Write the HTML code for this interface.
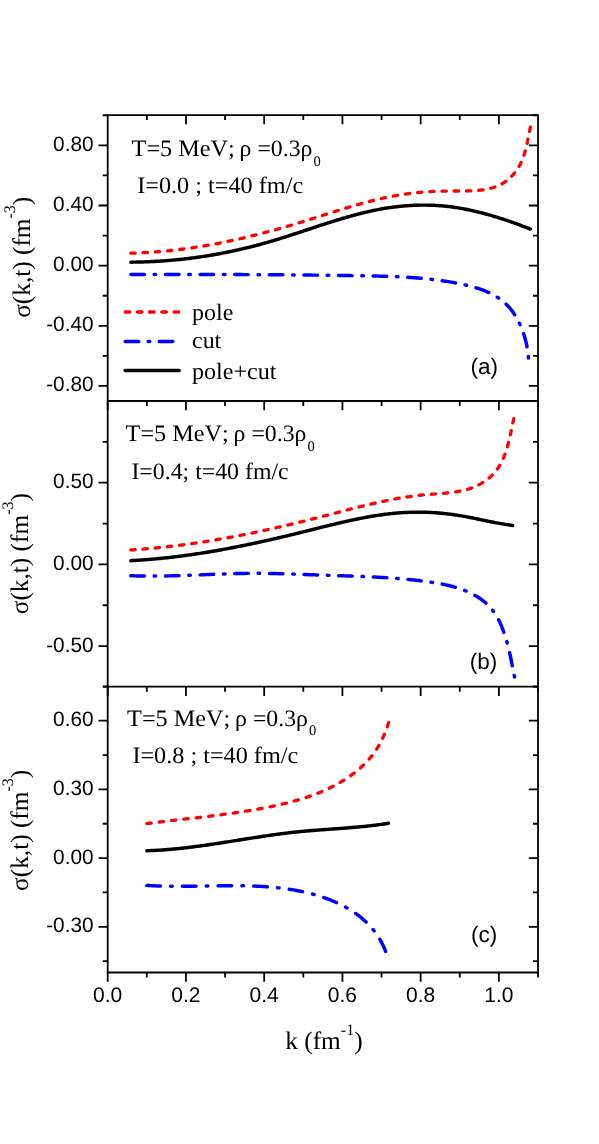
<!DOCTYPE html>
<html><head><meta charset="utf-8"><title>chart</title>
<style>html,body{margin:0;padding:0;background:#fff}body{width:599px;height:1144px;position:relative;overflow:hidden;font-family:"Liberation Sans",sans-serif}</style></head>
<body>
<svg width="599" height="1144" viewBox="0 0 599 1144" style="position:absolute;left:0;top:0;font-kerning:none;text-rendering:geometricPrecision;will-change:transform;opacity:0.9999">
<rect width="599" height="1144" fill="#fff"/>
<g stroke="#000" stroke-width="1.80" fill="none" stroke-linecap="butt">
<path d="M107.70 114.20 V973.40 M538.02 114.20 V973.40"/>
<path d="M107.70 115.10 H538.02"/>
<path d="M107.70 401.00 H538.02"/>
<path d="M107.70 686.70 H538.02"/>
<path d="M107.70 972.50 H538.02"/>
<path d="M146.82 115.10 v5.00 M185.94 115.10 v9.20 M225.06 115.10 v5.00 M264.18 115.10 v9.20 M303.30 115.10 v5.00 M342.42 115.10 v9.20 M381.54 115.10 v5.00 M420.66 115.10 v9.20 M459.78 115.10 v5.00 M498.90 115.10 v9.20 M107.70 401.00 v9.20 M146.82 401.00 v5.00 M185.94 401.00 v9.20 M225.06 401.00 v5.00 M264.18 401.00 v9.20 M303.30 401.00 v5.00 M342.42 401.00 v9.20 M381.54 401.00 v5.00 M420.66 401.00 v9.20 M459.78 401.00 v5.00 M498.90 401.00 v9.20 M538.02 401.00 v5.00 M107.70 686.70 v9.20 M146.82 686.70 v5.00 M185.94 686.70 v9.20 M225.06 686.70 v5.00 M264.18 686.70 v9.20 M303.30 686.70 v5.00 M342.42 686.70 v9.20 M381.54 686.70 v5.00 M420.66 686.70 v9.20 M459.78 686.70 v5.00 M498.90 686.70 v9.20 M538.02 686.70 v5.00 M107.70 972.50 v9.20 M146.82 972.50 v5.00 M185.94 972.50 v9.20 M225.06 972.50 v5.00 M264.18 972.50 v9.20 M303.30 972.50 v5.00 M342.42 972.50 v9.20 M381.54 972.50 v5.00 M420.66 972.50 v9.20 M459.78 972.50 v5.00 M498.90 972.50 v9.20 M538.02 972.50 v5.00 M107.70 145.33 h-9.20 M538.02 145.33 h-9.20 M107.70 205.49 h-9.20 M538.02 205.49 h-9.20 M107.70 265.65 h-9.20 M538.02 265.65 h-9.20 M107.70 325.81 h-9.20 M538.02 325.81 h-9.20 M107.70 385.97 h-9.20 M538.02 385.97 h-9.20 M107.70 115.25 h-5.00 M538.02 115.25 h-5.00 M107.70 175.41 h-5.00 M538.02 175.41 h-5.00 M107.70 235.57 h-5.00 M538.02 235.57 h-5.00 M107.70 295.73 h-5.00 M538.02 295.73 h-5.00 M107.70 355.89 h-5.00 M538.02 355.89 h-5.00 M107.70 482.70 h-9.20 M538.02 482.70 h-9.20 M107.70 564.40 h-9.20 M538.02 564.40 h-9.20 M107.70 646.10 h-9.20 M538.02 646.10 h-9.20 M107.70 441.85 h-5.00 M538.02 441.85 h-5.00 M107.70 523.55 h-5.00 M538.02 523.55 h-5.00 M107.70 605.25 h-5.00 M538.02 605.25 h-5.00 M107.70 686.95 h-5.00 M538.02 686.95 h-5.00 M107.70 720.70 h-9.20 M538.02 720.70 h-9.20 M107.70 789.40 h-9.20 M538.02 789.40 h-9.20 M107.70 858.10 h-9.20 M538.02 858.10 h-9.20 M107.70 926.80 h-9.20 M538.02 926.80 h-9.20 M107.70 686.35 h-5.00 M538.02 686.35 h-5.00 M107.70 755.05 h-5.00 M538.02 755.05 h-5.00 M107.70 823.75 h-5.00 M538.02 823.75 h-5.00 M107.70 892.45 h-5.00 M538.02 892.45 h-5.00 M107.70 961.15 h-5.00 M538.02 961.15 h-5.00"/>
</g>
<path d="M130.80 253.17 L132.31 253.13 L133.83 253.09 L135.34 253.04 L136.85 252.99 L138.36 252.93 L139.86 252.86 L141.37 252.80 L142.88 252.72 L144.38 252.65 L145.89 252.57 L147.39 252.48 L148.89 252.39 L150.39 252.29 L151.89 252.19 L153.39 252.09 L154.88 251.98 L156.38 251.86 L157.88 251.75 L159.37 251.62 L160.86 251.49 L162.35 251.36 L163.85 251.23 L165.34 251.09 L166.82 250.94 L168.31 250.79 L169.80 250.64 L171.29 250.48 L172.77 250.32 L174.26 250.15 L175.74 249.98 L177.22 249.81 L178.70 249.63 L180.18 249.45 L181.66 249.26 L183.14 249.07 L184.62 248.87 L186.10 248.67 L187.57 248.47 L189.05 248.26 L190.52 248.05 L192.00 247.84 L193.47 247.62 L194.94 247.40 L196.41 247.17 L197.88 246.94 L199.35 246.70 L200.82 246.47 L202.29 246.22 L203.76 245.98 L205.23 245.73 L206.69 245.48 L208.16 245.22 L209.62 244.96 L211.09 244.70 L212.55 244.43 L214.01 244.16 L215.47 243.88 L216.93 243.60 L218.39 243.32 L219.85 243.04 L221.31 242.75 L222.77 242.46 L224.23 242.16 L225.69 241.86 L227.14 241.56 L228.60 241.25 L230.06 240.94 L231.51 240.63 L232.97 240.32 L234.42 240.00 L235.87 239.68 L237.33 239.35 L238.78 239.02 L240.23 238.69 L241.68 238.36 L243.13 238.02 L244.58 237.68 L246.03 237.33 L247.48 236.99 L248.93 236.64 L250.38 236.29 L251.83 235.93 L253.27 235.57 L254.72 235.21 L256.17 234.84 L257.61 234.48 L259.06 234.11 L260.51 233.73 L261.95 233.36 L263.40 232.98 L264.84 232.60 L266.28 232.22 L267.73 231.83 L269.17 231.44 L270.62 231.05 L272.06 230.65 L273.50 230.26 L274.94 229.86 L276.38 229.45 L277.83 229.05 L279.27 228.64 L280.71 228.23 L282.15 227.82 L283.59 227.41 L285.03 226.99 L286.47 226.57 L287.91 226.15 L289.35 225.72 L290.79 225.30 L292.23 224.87 L293.67 224.44 L295.11 224.00 L296.55 223.57 L297.99 223.13 L299.42 222.69 L300.86 222.25 L302.30 221.81 L303.74 221.36 L305.18 220.91 L306.62 220.46 L308.05 220.01 L309.49 219.56 L310.93 219.11 L312.37 218.66 L313.81 218.20 L315.24 217.75 L316.68 217.29 L318.12 216.83 L319.56 216.38 L320.99 215.92 L322.43 215.46 L323.87 215.01 L325.31 214.55 L326.75 214.09 L328.18 213.64 L329.62 213.18 L331.06 212.73 L332.50 212.28 L333.94 211.82 L335.37 211.37 L336.81 210.93 L338.25 210.48 L339.69 210.03 L341.13 209.59 L342.57 209.15 L344.01 208.71 L345.45 208.27 L346.89 207.84 L348.33 207.41 L349.77 206.98 L351.21 206.55 L352.65 206.13 L354.09 205.71 L355.53 205.29 L356.97 204.88 L358.41 204.47 L359.85 204.06 L361.29 203.66 L362.73 203.26 L364.18 202.87 L365.62 202.48 L367.06 202.10 L368.51 201.72 L369.95 201.34 L371.39 200.97 L372.84 200.61 L374.28 200.25 L375.73 199.90 L377.17 199.55 L378.62 199.20 L380.06 198.87 L381.51 198.54 L382.96 198.21 L384.40 197.89 L385.85 197.58 L387.30 197.27 L388.75 196.98 L390.20 196.68 L391.65 196.40 L393.10 196.12 L394.55 195.85 L396.00 195.59 L397.45 195.33 L398.90 195.08 L400.35 194.84 L401.81 194.61 L403.26 194.39 L404.71 194.17 L406.17 193.96 L407.63 193.76 L409.08 193.57 L410.54 193.38 L412.00 193.21 L413.47 193.04 L414.93 192.87 L416.40 192.72 L417.86 192.57 L419.33 192.43 L420.81 192.29 L422.28 192.17 L423.76 192.05 L425.24 191.93 L426.72 191.83 L428.20 191.73 L429.69 191.63 L431.18 191.55 L432.68 191.47 L434.18 191.40 L435.68 191.33 L437.19 191.27 L438.70 191.21 L440.21 191.17 L441.73 191.13 L443.25 191.09 L444.78 191.06 L446.31 191.04 L447.84 191.02 L449.38 191.01 L450.93 191.01 L452.48 191.01 L454.03 191.01 L455.58 191.01 L457.14 191.02 L458.70 191.02 L460.26 191.03 L461.82 191.02 L463.38 191.02 L464.94 191.00 L466.49 190.98 L468.04 190.95 L469.59 190.91 L471.13 190.86 L472.66 190.79 L474.19 190.70 L475.72 190.60 L477.23 190.49 L478.74 190.35 L480.23 190.19 L481.72 190.01 L483.19 189.80 L484.65 189.57 L486.10 189.32 L487.54 189.03 L488.96 188.72 L490.37 188.37 L491.76 187.99 L493.14 187.58 L494.50 187.13 L495.83 186.65 L497.16 186.12 L498.46 185.56 L499.74 184.96 L501.00 184.31 L502.24 183.62 L503.45 182.89 L504.64 182.12 L505.81 181.30 L506.95 180.45 L508.07 179.55 L509.16 178.62 L510.22 177.66 L511.26 176.65 L512.26 175.62 L513.24 174.55 L514.19 173.45 L515.10 172.32 L515.99 171.16 L516.84 169.97 L517.65 168.76 L518.44 167.52 L519.19 166.26 L519.90 164.97 L520.58 163.66 L521.22 162.33 L521.83 160.98 L522.40 159.61 L522.95 158.22 L523.46 156.81 L523.95 155.40 L524.41 153.96 L524.85 152.52 L525.26 151.06 L525.65 149.59 L526.02 148.11 L526.38 146.62 L526.72 145.13 L527.05 143.63 L527.37 142.13 L527.68 140.62 L527.98 139.11 L528.28 137.60 L528.58 136.08 L528.88 134.57 L529.19 133.06 L529.50 131.56 L529.82 130.05 L530.15 128.56 L530.49 127.07" fill="none" stroke="#ff0000" stroke-width="3.30" stroke-linecap="round" stroke-dasharray="4.400 7.851"/>
<path d="M130.82 262.17 L132.32 262.16 L133.83 262.14 L135.33 262.12 L136.83 262.09 L138.33 262.06 L139.83 262.02 L141.33 261.98 L142.83 261.93 L144.32 261.88 L145.82 261.83 L147.31 261.77 L148.81 261.71 L150.30 261.64 L151.79 261.57 L153.28 261.50 L154.77 261.42 L156.25 261.34 L157.74 261.25 L159.23 261.16 L160.71 261.06 L162.19 260.96 L163.68 260.85 L165.16 260.75 L166.64 260.63 L168.12 260.51 L169.60 260.39 L171.07 260.27 L172.55 260.14 L174.03 260.00 L175.50 259.86 L176.98 259.72 L178.45 259.57 L179.92 259.42 L181.39 259.26 L182.86 259.10 L184.33 258.94 L185.80 258.77 L187.27 258.60 L188.74 258.42 L190.20 258.24 L191.67 258.05 L193.13 257.86 L194.60 257.67 L196.06 257.47 L197.52 257.26 L198.99 257.06 L200.45 256.84 L201.91 256.63 L203.37 256.41 L204.83 256.18 L206.28 255.95 L207.74 255.72 L209.20 255.48 L210.66 255.24 L212.11 255.00 L213.57 254.75 L215.02 254.49 L216.47 254.23 L217.93 253.97 L219.38 253.70 L220.83 253.43 L222.28 253.15 L223.74 252.87 L225.19 252.59 L226.64 252.30 L228.08 252.01 L229.53 251.71 L230.98 251.41 L232.43 251.10 L233.88 250.79 L235.32 250.47 L236.77 250.16 L238.22 249.83 L239.66 249.50 L241.11 249.17 L242.55 248.84 L244.00 248.50 L245.44 248.15 L246.88 247.80 L248.33 247.45 L249.77 247.09 L251.21 246.73 L252.65 246.36 L254.09 245.99 L255.54 245.62 L256.98 245.24 L258.42 244.85 L259.86 244.47 L261.30 244.07 L262.74 243.68 L264.18 243.28 L265.62 242.87 L267.06 242.46 L268.49 242.05 L269.93 241.63 L271.37 241.21 L272.81 240.78 L274.25 240.35 L275.68 239.92 L277.12 239.48 L278.56 239.04 L280.00 238.59 L281.43 238.14 L282.87 237.69 L284.31 237.24 L285.74 236.78 L287.18 236.32 L288.62 235.86 L290.05 235.40 L291.49 234.94 L292.93 234.47 L294.36 234.00 L295.80 233.53 L297.24 233.06 L298.67 232.59 L300.11 232.11 L301.55 231.64 L302.98 231.16 L304.42 230.69 L305.85 230.21 L307.29 229.74 L308.73 229.26 L310.16 228.78 L311.60 228.31 L313.04 227.83 L314.47 227.36 L315.91 226.88 L317.35 226.41 L318.79 225.94 L320.22 225.47 L321.66 225.00 L323.10 224.53 L324.54 224.07 L325.97 223.61 L327.41 223.14 L328.85 222.68 L330.29 222.23 L331.73 221.77 L333.17 221.32 L334.61 220.87 L336.05 220.43 L337.49 219.99 L338.93 219.55 L340.37 219.11 L341.81 218.68 L343.25 218.26 L344.69 217.83 L346.13 217.41 L347.57 217.00 L349.02 216.59 L350.46 216.18 L351.90 215.78 L353.35 215.39 L354.79 215.00 L356.23 214.61 L357.68 214.23 L359.12 213.86 L360.57 213.49 L362.01 213.13 L363.46 212.78 L364.91 212.43 L366.36 212.09 L367.80 211.75 L369.25 211.42 L370.70 211.10 L372.15 210.79 L373.60 210.48 L375.05 210.18 L376.50 209.89 L377.95 209.60 L379.41 209.33 L380.86 209.06 L382.31 208.80 L383.77 208.55 L385.22 208.31 L386.68 208.07 L388.13 207.85 L389.59 207.63 L391.04 207.42 L392.50 207.22 L393.96 207.03 L395.42 206.85 L396.88 206.67 L398.33 206.51 L399.79 206.35 L401.25 206.21 L402.71 206.07 L404.17 205.94 L405.63 205.82 L407.09 205.71 L408.55 205.61 L410.01 205.51 L411.48 205.43 L412.94 205.36 L414.40 205.29 L415.86 205.24 L417.32 205.19 L418.78 205.15 L420.25 205.13 L421.71 205.11 L423.17 205.10 L424.63 205.10 L426.09 205.11 L427.56 205.13 L429.02 205.16 L430.48 205.20 L431.94 205.25 L433.41 205.31 L434.87 205.39 L436.33 205.47 L437.79 205.56 L439.25 205.66 L440.71 205.77 L442.17 205.89 L443.64 206.02 L445.10 206.16 L446.56 206.31 L448.02 206.47 L449.48 206.64 L450.94 206.83 L452.40 207.02 L453.85 207.22 L455.31 207.43 L456.77 207.66 L458.23 207.89 L459.69 208.13 L461.14 208.38 L462.60 208.65 L464.06 208.92 L465.51 209.19 L466.97 209.48 L468.42 209.78 L469.87 210.09 L471.33 210.40 L472.78 210.72 L474.23 211.06 L475.68 211.39 L477.13 211.74 L478.58 212.10 L480.03 212.46 L481.48 212.83 L482.93 213.21 L484.38 213.60 L485.82 213.99 L487.27 214.39 L488.71 214.79 L490.16 215.21 L491.60 215.63 L493.04 216.06 L494.49 216.49 L495.93 216.93 L497.37 217.37 L498.80 217.83 L500.24 218.28 L501.68 218.75 L503.11 219.22 L504.55 219.69 L505.98 220.17 L507.42 220.66 L508.85 221.15 L510.28 221.64 L511.71 222.14 L513.14 222.65 L514.56 223.15 L515.99 223.67 L517.41 224.19 L518.84 224.71 L520.26 225.23 L521.68 225.76 L523.10 226.30 L524.52 226.83 L525.94 227.38 L527.35 227.92 L528.77 228.47 L530.18 229.02" fill="none" stroke="#000" stroke-width="3.45" stroke-linecap="round"/>
<path d="M130.80 274.51 L132.29 274.51 L133.78 274.51 L135.27 274.50 L136.76 274.50 L138.25 274.50 L139.74 274.50 L141.23 274.49 L142.72 274.49 L144.21 274.49 L145.70 274.49 L147.19 274.49 L148.68 274.49 L150.17 274.48 L151.66 274.48 L153.16 274.48 L154.65 274.48 L156.14 274.48 L157.63 274.48 L159.13 274.48 L160.62 274.48 L162.11 274.47 L163.61 274.47 L165.10 274.47 L166.59 274.47 L168.09 274.47 L169.58 274.47 L171.08 274.47 L172.57 274.47 L174.07 274.47 L175.56 274.47 L177.06 274.47 L178.56 274.47 L180.05 274.47 L181.55 274.47 L183.04 274.47 L184.54 274.47 L186.04 274.47 L187.53 274.47 L189.03 274.47 L190.53 274.48 L192.03 274.48 L193.52 274.48 L195.02 274.48 L196.52 274.48 L198.02 274.48 L199.52 274.48 L201.02 274.49 L202.51 274.49 L204.01 274.49 L205.51 274.49 L207.01 274.49 L208.51 274.50 L210.01 274.50 L211.51 274.50 L213.01 274.51 L214.51 274.51 L216.01 274.51 L217.51 274.51 L219.01 274.52 L220.51 274.52 L222.01 274.53 L223.51 274.53 L225.01 274.53 L226.51 274.54 L228.01 274.54 L229.51 274.55 L231.01 274.55 L232.52 274.56 L234.02 274.56 L235.52 274.57 L237.02 274.57 L238.52 274.58 L240.02 274.58 L241.52 274.59 L243.03 274.60 L244.53 274.60 L246.03 274.61 L247.53 274.62 L249.03 274.62 L250.54 274.63 L252.04 274.64 L253.54 274.64 L255.04 274.65 L256.54 274.66 L258.05 274.67 L259.55 274.68 L261.05 274.68 L262.55 274.69 L264.06 274.70 L265.56 274.71 L267.06 274.72 L268.56 274.73 L270.07 274.74 L271.57 274.75 L273.07 274.76 L274.57 274.77 L276.08 274.78 L277.58 274.79 L279.08 274.80 L280.58 274.81 L282.09 274.82 L283.59 274.83 L285.09 274.85 L286.59 274.86 L288.10 274.87 L289.60 274.88 L291.10 274.89 L292.60 274.91 L294.11 274.92 L295.61 274.93 L297.11 274.95 L298.61 274.96 L300.12 274.97 L301.62 274.99 L303.12 275.00 L304.62 275.02 L306.12 275.03 L307.63 275.05 L309.13 275.06 L310.63 275.08 L312.13 275.10 L313.63 275.11 L315.13 275.13 L316.64 275.14 L318.14 275.16 L319.64 275.18 L321.14 275.20 L322.64 275.21 L324.14 275.23 L325.64 275.25 L327.14 275.27 L328.64 275.29 L330.15 275.31 L331.65 275.33 L333.15 275.35 L334.65 275.37 L336.15 275.39 L337.65 275.41 L339.15 275.43 L340.65 275.45 L342.15 275.47 L343.65 275.49 L345.15 275.51 L346.65 275.53 L348.14 275.56 L349.64 275.58 L351.14 275.60 L352.64 275.63 L354.14 275.65 L355.64 275.67 L357.14 275.70 L358.64 275.72 L360.13 275.75 L361.63 275.77 L363.13 275.80 L364.63 275.82 L366.12 275.85 L367.62 275.88 L369.12 275.91 L370.61 275.94 L372.11 275.97 L373.61 276.00 L375.10 276.03 L376.60 276.07 L378.09 276.10 L379.59 276.14 L381.09 276.18 L382.58 276.22 L384.08 276.26 L385.57 276.31 L387.06 276.36 L388.56 276.41 L390.05 276.46 L391.55 276.52 L393.04 276.57 L394.53 276.63 L396.03 276.70 L397.52 276.76 L399.01 276.83 L400.50 276.91 L402.00 276.98 L403.49 277.06 L404.98 277.15 L406.47 277.23 L407.96 277.32 L409.45 277.42 L410.94 277.52 L412.43 277.62 L413.92 277.73 L415.41 277.84 L416.90 277.96 L418.39 278.08 L419.88 278.20 L421.37 278.33 L422.86 278.47 L424.35 278.61 L425.83 278.76 L427.32 278.91 L428.81 279.06 L430.30 279.23 L431.78 279.39 L433.27 279.57 L434.75 279.75 L436.24 279.93 L437.72 280.12 L439.21 280.32 L440.69 280.52 L442.18 280.73 L443.66 280.95 L445.15 281.17 L446.63 281.40 L448.11 281.64 L449.59 281.89 L451.08 282.14 L452.56 282.40 L454.04 282.66 L455.52 282.94 L457.00 283.22 L458.48 283.51 L459.96 283.80 L461.44 284.11 L462.92 284.42 L464.39 284.75 L465.86 285.08 L467.33 285.43 L468.80 285.78 L470.25 286.16 L471.71 286.54 L473.15 286.94 L474.60 287.35 L476.03 287.78 L477.45 288.22 L478.87 288.69 L480.27 289.16 L481.67 289.66 L483.06 290.18 L484.43 290.71 L485.79 291.27 L487.14 291.85 L488.48 292.44 L489.80 293.06 L491.11 293.71 L492.40 294.38 L493.68 295.07 L494.94 295.79 L496.18 296.53 L497.40 297.30 L498.61 298.10 L499.80 298.92 L500.96 299.77 L502.11 300.66 L503.23 301.57 L504.34 302.51 L505.42 303.49 L506.48 304.49 L507.51 305.53 L508.52 306.61 L509.51 307.71 L510.47 308.85 L511.41 310.02 L512.32 311.22 L513.20 312.45 L514.06 313.71 L514.90 314.99 L515.71 316.30 L516.49 317.63 L517.25 318.98 L517.99 320.35 L518.70 321.74 L519.39 323.15 L520.05 324.57 L520.69 326.00 L521.30 327.45 L521.89 328.91 L522.45 330.37 L522.99 331.85 L523.50 333.33 L523.99 334.81 L524.45 336.30 L524.89 337.79 L525.31 339.28 L525.70 340.77 L526.06 342.26 L526.40 343.74 L526.72 345.22 L527.01 346.69 L527.28 348.15 L527.53 349.61 L527.75 351.05 L527.94 352.47 L528.11 353.89 L528.26 355.28 L528.38 356.66 L528.48 358.02" fill="none" stroke="#0000ff" stroke-width="3.45" stroke-linecap="round" stroke-dasharray="13.600 9.709 1.600 9.709"/>
<path d="M130.79 549.94 L132.31 549.84 L133.83 549.74 L135.34 549.64 L136.85 549.53 L138.37 549.43 L139.88 549.31 L141.39 549.20 L142.89 549.08 L144.40 548.96 L145.91 548.84 L147.41 548.71 L148.91 548.58 L150.41 548.45 L151.91 548.31 L153.41 548.17 L154.91 548.03 L156.41 547.89 L157.90 547.74 L159.39 547.59 L160.89 547.44 L162.38 547.28 L163.87 547.13 L165.36 546.96 L166.85 546.80 L168.33 546.63 L169.82 546.47 L171.30 546.29 L172.79 546.12 L174.27 545.94 L175.75 545.76 L177.23 545.58 L178.71 545.39 L180.19 545.21 L181.66 545.01 L183.14 544.82 L184.61 544.63 L186.09 544.43 L187.56 544.23 L189.03 544.02 L190.51 543.82 L191.98 543.61 L193.45 543.40 L194.91 543.18 L196.38 542.97 L197.85 542.75 L199.31 542.53 L200.78 542.31 L202.24 542.08 L203.71 541.85 L205.17 541.62 L206.63 541.39 L208.09 541.16 L209.55 540.92 L211.01 540.68 L212.47 540.44 L213.93 540.19 L215.39 539.95 L216.84 539.70 L218.30 539.45 L219.75 539.19 L221.21 538.94 L222.66 538.68 L224.12 538.42 L225.57 538.16 L227.02 537.90 L228.47 537.63 L229.92 537.36 L231.37 537.09 L232.82 536.82 L234.27 536.54 L235.72 536.27 L237.17 535.99 L238.62 535.71 L240.07 535.43 L241.51 535.14 L242.96 534.86 L244.41 534.57 L245.85 534.28 L247.30 533.98 L248.74 533.69 L250.19 533.39 L251.63 533.10 L253.07 532.80 L254.52 532.49 L255.96 532.19 L257.40 531.89 L258.84 531.58 L260.29 531.27 L261.73 530.96 L263.17 530.65 L264.61 530.33 L266.05 530.01 L267.49 529.70 L268.93 529.38 L270.37 529.06 L271.81 528.73 L273.25 528.41 L274.69 528.08 L276.13 527.76 L277.57 527.43 L279.01 527.09 L280.45 526.76 L281.89 526.43 L283.33 526.09 L284.77 525.76 L286.21 525.42 L287.65 525.08 L289.09 524.73 L290.52 524.39 L291.96 524.05 L293.40 523.70 L294.84 523.35 L296.28 523.00 L297.72 522.65 L299.16 522.30 L300.60 521.95 L302.04 521.59 L303.48 521.24 L304.92 520.88 L306.36 520.52 L307.80 520.16 L309.24 519.80 L310.68 519.44 L312.12 519.08 L313.56 518.71 L315.00 518.35 L316.44 517.98 L317.88 517.61 L319.32 517.24 L320.76 516.87 L322.20 516.50 L323.65 516.12 L325.09 515.75 L326.53 515.37 L327.97 515.00 L329.42 514.62 L330.86 514.24 L332.31 513.87 L333.75 513.49 L335.20 513.11 L336.64 512.73 L338.09 512.35 L339.53 511.97 L340.98 511.59 L342.43 511.22 L343.88 510.84 L345.32 510.46 L346.77 510.09 L348.22 509.71 L349.67 509.34 L351.12 508.96 L352.57 508.59 L354.02 508.22 L355.48 507.85 L356.93 507.49 L358.38 507.12 L359.84 506.76 L361.29 506.40 L362.75 506.04 L364.20 505.68 L365.66 505.33 L367.12 504.98 L368.57 504.63 L370.03 504.29 L371.49 503.95 L372.95 503.61 L374.41 503.27 L375.87 502.94 L377.34 502.61 L378.80 502.29 L380.26 501.97 L381.73 501.65 L383.20 501.34 L384.66 501.03 L386.13 500.72 L387.60 500.42 L389.07 500.13 L390.54 499.84 L392.01 499.55 L393.48 499.27 L394.95 499.00 L396.43 498.73 L397.90 498.47 L399.38 498.21 L400.85 497.96 L402.33 497.71 L403.81 497.47 L405.29 497.23 L406.77 497.00 L408.25 496.78 L409.74 496.57 L411.22 496.36 L412.71 496.16 L414.19 495.96 L415.68 495.77 L417.17 495.59 L418.66 495.42 L420.15 495.25 L421.64 495.09 L423.14 494.94 L424.63 494.80 L426.13 494.66 L427.62 494.54 L429.12 494.42 L430.62 494.30 L432.12 494.19 L433.62 494.08 L435.11 493.97 L436.61 493.86 L438.10 493.75 L439.60 493.64 L441.09 493.52 L442.57 493.40 L444.06 493.27 L445.54 493.14 L447.02 493.00 L448.49 492.85 L449.96 492.68 L451.43 492.51 L452.89 492.32 L454.35 492.12 L455.80 491.90 L457.24 491.67 L458.68 491.41 L460.11 491.14 L461.53 490.85 L462.95 490.53 L464.36 490.19 L465.76 489.83 L467.15 489.44 L468.53 489.03 L469.90 488.59 L471.27 488.11 L472.62 487.61 L473.97 487.08 L475.30 486.51 L476.62 485.91 L477.93 485.28 L479.23 484.61 L480.51 483.91 L481.77 483.18 L483.02 482.41 L484.25 481.61 L485.45 480.78 L486.64 479.92 L487.80 479.03 L488.94 478.10 L490.05 477.15 L491.13 476.16 L492.18 475.15 L493.21 474.10 L494.20 473.03 L495.16 471.92 L496.09 470.79 L496.97 469.62 L497.83 468.43 L498.65 467.21 L499.43 465.97 L500.18 464.70 L500.90 463.41 L501.59 462.09 L502.25 460.76 L502.88 459.40 L503.48 458.03 L504.06 456.64 L504.61 455.23 L505.14 453.81 L505.64 452.38 L506.13 450.93 L506.59 449.47 L507.04 448.00 L507.47 446.53 L507.88 445.04 L508.28 443.56 L508.66 442.06 L509.03 440.57 L509.39 439.07 L509.74 437.57 L510.08 436.07 L510.41 434.57 L510.73 433.08 L511.05 431.59 L511.36 430.11 L511.67 428.64 L511.97 427.18 L512.28 425.72 L512.59 424.28 L512.89 422.85 L513.20 421.44 L513.52 420.04 L513.84 418.66" fill="none" stroke="#ff0000" stroke-width="3.30" stroke-linecap="round" stroke-dasharray="4.400 7.844"/>
<path d="M130.81 560.67 L132.29 560.59 L133.76 560.51 L135.23 560.42 L136.71 560.33 L138.18 560.24 L139.65 560.15 L141.12 560.05 L142.60 559.94 L144.07 559.84 L145.54 559.73 L147.01 559.61 L148.48 559.50 L149.95 559.38 L151.42 559.25 L152.89 559.13 L154.36 558.99 L155.83 558.86 L157.30 558.72 L158.77 558.58 L160.24 558.44 L161.71 558.29 L163.18 558.14 L164.65 557.99 L166.11 557.83 L167.58 557.67 L169.05 557.51 L170.52 557.34 L171.99 557.17 L173.45 557.00 L174.92 556.82 L176.39 556.64 L177.85 556.46 L179.32 556.27 L180.79 556.09 L182.25 555.89 L183.72 555.70 L185.18 555.50 L186.65 555.30 L188.11 555.10 L189.58 554.90 L191.04 554.69 L192.51 554.48 L193.97 554.26 L195.44 554.04 L196.90 553.82 L198.37 553.60 L199.83 553.38 L201.29 553.15 L202.76 552.92 L204.22 552.69 L205.68 552.45 L207.15 552.21 L208.61 551.97 L210.07 551.73 L211.53 551.48 L213.00 551.23 L214.46 550.98 L215.92 550.73 L217.38 550.47 L218.84 550.21 L220.31 549.95 L221.77 549.69 L223.23 549.42 L224.69 549.15 L226.15 548.88 L227.61 548.61 L229.07 548.34 L230.54 548.06 L232.00 547.78 L233.46 547.50 L234.92 547.21 L236.38 546.93 L237.84 546.64 L239.30 546.35 L240.76 546.06 L242.22 545.76 L243.68 545.47 L245.14 545.17 L246.60 544.87 L248.06 544.56 L249.52 544.26 L250.97 543.95 L252.43 543.64 L253.89 543.33 L255.35 543.02 L256.81 542.71 L258.27 542.39 L259.73 542.07 L261.19 541.75 L262.65 541.43 L264.10 541.11 L265.56 540.79 L267.02 540.46 L268.48 540.13 L269.94 539.80 L271.40 539.47 L272.85 539.14 L274.31 538.80 L275.77 538.46 L277.23 538.13 L278.69 537.79 L280.14 537.45 L281.60 537.10 L283.06 536.76 L284.52 536.41 L285.97 536.07 L287.43 535.72 L288.89 535.37 L290.35 535.02 L291.80 534.66 L293.26 534.31 L294.72 533.96 L296.18 533.60 L297.63 533.24 L299.09 532.88 L300.55 532.52 L302.01 532.16 L303.46 531.80 L304.92 531.44 L306.38 531.07 L307.83 530.71 L309.29 530.34 L310.75 529.98 L312.21 529.61 L313.66 529.25 L315.12 528.88 L316.58 528.52 L318.03 528.15 L319.49 527.79 L320.95 527.43 L322.41 527.06 L323.86 526.70 L325.32 526.34 L326.78 525.98 L328.23 525.63 L329.69 525.27 L331.15 524.92 L332.61 524.57 L334.06 524.22 L335.52 523.87 L336.98 523.52 L338.43 523.18 L339.89 522.84 L341.35 522.50 L342.81 522.16 L344.26 521.83 L345.72 521.50 L347.18 521.18 L348.64 520.85 L350.09 520.54 L351.55 520.22 L353.01 519.91 L354.47 519.60 L355.93 519.30 L357.38 519.00 L358.84 518.71 L360.30 518.42 L361.76 518.13 L363.22 517.85 L364.67 517.58 L366.13 517.31 L367.59 517.04 L369.05 516.78 L370.51 516.53 L371.97 516.28 L373.42 516.04 L374.88 515.80 L376.34 515.57 L377.80 515.35 L379.26 515.13 L380.72 514.92 L382.18 514.72 L383.64 514.52 L385.10 514.33 L386.56 514.14 L388.01 513.97 L389.47 513.80 L390.93 513.64 L392.39 513.49 L393.85 513.34 L395.31 513.20 L396.77 513.08 L398.23 512.95 L399.69 512.84 L401.16 512.74 L402.62 512.64 L404.08 512.56 L405.54 512.48 L407.00 512.41 L408.46 512.35 L409.92 512.30 L411.38 512.25 L412.84 512.22 L414.31 512.19 L415.77 512.17 L417.23 512.16 L418.69 512.16 L420.15 512.17 L421.62 512.19 L423.08 512.21 L424.54 512.25 L426.00 512.29 L427.47 512.34 L428.93 512.40 L430.39 512.46 L431.86 512.54 L433.32 512.63 L434.78 512.72 L436.25 512.82 L437.71 512.93 L439.18 513.05 L440.64 513.18 L442.10 513.31 L443.57 513.46 L445.03 513.61 L446.50 513.77 L447.96 513.94 L449.43 514.12 L450.90 514.31 L452.36 514.50 L453.83 514.71 L455.29 514.92 L456.76 515.14 L458.23 515.37 L459.69 515.61 L461.16 515.85 L462.63 516.11 L464.10 516.37 L465.56 516.64 L467.03 516.91 L468.50 517.19 L469.97 517.48 L471.44 517.77 L472.90 518.06 L474.37 518.36 L475.84 518.66 L477.31 518.96 L478.78 519.27 L480.25 519.57 L481.72 519.88 L483.19 520.19 L484.66 520.49 L486.13 520.80 L487.60 521.10 L489.07 521.40 L490.55 521.70 L492.02 521.99 L493.49 522.28 L494.96 522.57 L496.43 522.85 L497.91 523.13 L499.38 523.40 L500.85 523.66 L502.33 523.92 L503.80 524.16 L505.27 524.40 L506.75 524.63 L508.22 524.85 L509.70 525.06 L511.17 525.26 L512.65 525.45" fill="none" stroke="#000" stroke-width="3.45" stroke-linecap="round"/>
<path d="M130.80 575.73 L132.31 575.78 L133.82 575.83 L135.33 575.88 L136.84 575.92 L138.35 575.95 L139.85 575.99 L141.36 576.01 L142.87 576.04 L144.38 576.06 L145.89 576.07 L147.39 576.08 L148.90 576.09 L150.41 576.10 L151.91 576.10 L153.42 576.09 L154.92 576.09 L156.43 576.08 L157.93 576.07 L159.44 576.05 L160.94 576.03 L162.45 576.01 L163.95 575.99 L165.45 575.96 L166.96 575.93 L168.46 575.90 L169.96 575.87 L171.47 575.83 L172.97 575.79 L174.47 575.75 L175.97 575.71 L177.47 575.67 L178.98 575.62 L180.48 575.58 L181.98 575.53 L183.48 575.48 L184.98 575.43 L186.48 575.37 L187.98 575.32 L189.48 575.27 L190.98 575.21 L192.48 575.15 L193.98 575.10 L195.48 575.04 L196.97 574.98 L198.47 574.92 L199.97 574.86 L201.47 574.80 L202.97 574.74 L204.46 574.68 L205.96 574.62 L207.46 574.56 L208.96 574.50 L210.45 574.44 L211.95 574.39 L213.45 574.33 L214.94 574.27 L216.44 574.21 L217.94 574.16 L219.43 574.10 L220.93 574.05 L222.43 574.00 L223.92 573.95 L225.42 573.90 L226.91 573.85 L228.41 573.80 L229.90 573.76 L231.40 573.71 L232.89 573.67 L234.39 573.63 L235.89 573.59 L237.38 573.56 L238.87 573.52 L240.37 573.49 L241.86 573.46 L243.36 573.44 L244.85 573.41 L246.35 573.39 L247.84 573.38 L249.34 573.36 L250.83 573.35 L252.32 573.34 L253.82 573.33 L255.31 573.33 L256.81 573.33 L258.30 573.34 L259.79 573.34 L261.29 573.35 L262.78 573.36 L264.28 573.38 L265.77 573.40 L267.26 573.42 L268.76 573.44 L270.25 573.47 L271.75 573.49 L273.24 573.52 L274.73 573.55 L276.23 573.59 L277.72 573.62 L279.21 573.66 L280.71 573.70 L282.20 573.74 L283.70 573.78 L285.19 573.83 L286.68 573.87 L288.18 573.92 L289.67 573.97 L291.17 574.02 L292.66 574.07 L294.15 574.12 L295.65 574.17 L297.14 574.22 L298.64 574.27 L300.13 574.33 L301.62 574.38 L303.12 574.44 L304.61 574.49 L306.11 574.55 L307.60 574.61 L309.10 574.66 L310.59 574.72 L312.09 574.77 L313.58 574.83 L315.08 574.88 L316.57 574.94 L318.07 574.99 L319.56 575.05 L321.06 575.10 L322.56 575.16 L324.05 575.21 L325.55 575.26 L327.04 575.31 L328.54 575.36 L330.04 575.41 L331.53 575.46 L333.03 575.51 L334.53 575.55 L336.02 575.60 L337.52 575.65 L339.02 575.70 L340.51 575.74 L342.01 575.79 L343.51 575.84 L345.01 575.89 L346.51 575.93 L348.00 575.98 L349.50 576.03 L351.00 576.08 L352.50 576.13 L354.00 576.18 L355.50 576.24 L357.00 576.29 L358.50 576.35 L360.00 576.40 L361.50 576.46 L363.00 576.52 L364.50 576.58 L366.00 576.64 L367.50 576.70 L369.00 576.77 L370.50 576.83 L372.00 576.90 L373.51 576.98 L375.01 577.05 L376.51 577.12 L378.01 577.20 L379.52 577.28 L381.02 577.37 L382.52 577.45 L384.03 577.54 L385.53 577.63 L387.04 577.73 L388.54 577.82 L390.04 577.92 L391.55 578.03 L393.06 578.13 L394.56 578.24 L396.07 578.36 L397.57 578.48 L399.08 578.60 L400.59 578.72 L402.09 578.85 L403.60 578.98 L405.11 579.12 L406.62 579.26 L408.13 579.41 L409.64 579.55 L411.15 579.71 L412.65 579.87 L414.16 580.03 L415.68 580.20 L417.19 580.37 L418.70 580.55 L420.21 580.73 L421.72 580.92 L423.23 581.11 L424.74 581.31 L426.26 581.51 L427.77 581.72 L429.28 581.94 L430.79 582.16 L432.31 582.39 L433.81 582.63 L435.32 582.87 L436.82 583.13 L438.33 583.39 L439.82 583.67 L441.32 583.95 L442.81 584.25 L444.29 584.55 L445.77 584.87 L447.24 585.21 L448.71 585.55 L450.17 585.91 L451.62 586.28 L453.07 586.67 L454.51 587.07 L455.94 587.49 L457.36 587.92 L458.77 588.38 L460.17 588.84 L461.57 589.33 L462.95 589.84 L464.32 590.36 L465.68 590.90 L467.03 591.46 L468.36 592.05 L469.68 592.65 L470.99 593.28 L472.28 593.93 L473.56 594.60 L474.83 595.29 L476.07 596.01 L477.30 596.75 L478.52 597.51 L479.71 598.30 L480.88 599.12 L482.04 599.96 L483.17 600.83 L484.28 601.73 L485.37 602.65 L486.44 603.60 L487.49 604.59 L488.51 605.60 L489.50 606.64 L490.47 607.71 L491.41 608.81 L492.33 609.94 L493.22 611.11 L494.08 612.30 L494.91 613.53 L495.72 614.78 L496.50 616.06 L497.26 617.37 L497.99 618.70 L498.70 620.05 L499.39 621.42 L500.05 622.81 L500.69 624.22 L501.32 625.65 L501.92 627.09 L502.50 628.55 L503.06 630.02 L503.60 631.50 L504.13 632.99 L504.63 634.49 L505.12 635.99 L505.60 637.50 L506.06 639.02 L506.50 640.53 L506.93 642.05 L507.35 643.57 L507.75 645.09 L508.14 646.61 L508.51 648.13 L508.88 649.64 L509.24 651.15 L509.58 652.66 L509.92 654.16 L510.25 655.66 L510.57 657.15 L510.88 658.64 L511.18 660.11 L511.48 661.58 L511.77 663.04 L512.06 664.49 L512.34 665.93 L512.62 667.36 L512.90 668.78 L513.17 670.18 L513.44 671.58 L513.71 672.95 L513.98 674.32 L514.25 675.66 L514.52 676.99" fill="none" stroke="#0000ff" stroke-width="3.45" stroke-linecap="round" stroke-dasharray="13.600 9.728 1.600 9.728"/>
<path d="M146.79 823.61 L148.22 823.42 L149.66 823.24 L151.09 823.06 L152.53 822.88 L153.98 822.70 L155.42 822.52 L156.87 822.34 L158.32 822.17 L159.77 821.99 L161.23 821.82 L162.68 821.64 L164.14 821.47 L165.60 821.30 L167.06 821.13 L168.53 820.96 L169.99 820.79 L171.46 820.62 L172.93 820.45 L174.40 820.28 L175.87 820.11 L177.35 819.94 L178.83 819.78 L180.30 819.61 L181.78 819.44 L183.26 819.27 L184.74 819.10 L186.22 818.93 L187.71 818.76 L189.19 818.60 L190.68 818.43 L192.17 818.25 L193.65 818.08 L195.14 817.91 L196.63 817.74 L198.12 817.57 L199.61 817.39 L201.10 817.22 L202.60 817.04 L204.09 816.86 L205.58 816.68 L207.08 816.50 L208.57 816.32 L210.06 816.14 L211.56 815.96 L213.05 815.77 L214.55 815.58 L216.04 815.39 L217.54 815.20 L219.03 815.01 L220.53 814.82 L222.02 814.62 L223.52 814.42 L225.01 814.22 L226.51 814.02 L228.00 813.81 L229.50 813.61 L230.99 813.40 L232.48 813.18 L233.97 812.97 L235.47 812.75 L236.96 812.53 L238.45 812.31 L239.94 812.08 L241.43 811.86 L242.91 811.62 L244.40 811.39 L245.89 811.15 L247.37 810.91 L248.85 810.67 L250.34 810.42 L251.82 810.17 L253.30 809.92 L254.78 809.66 L256.25 809.40 L257.73 809.13 L259.20 808.86 L260.68 808.59 L262.15 808.32 L263.62 808.04 L265.08 807.75 L266.55 807.46 L268.02 807.17 L269.48 806.87 L270.94 806.57 L272.40 806.27 L273.85 805.96 L275.31 805.64 L276.76 805.33 L278.21 805.00 L279.66 804.67 L281.10 804.34 L282.54 804.00 L283.98 803.66 L285.42 803.31 L286.86 802.96 L288.29 802.60 L289.72 802.23 L291.15 801.86 L292.57 801.48 L294.00 801.10 L295.41 800.70 L296.83 800.30 L298.24 799.90 L299.65 799.48 L301.06 799.06 L302.46 798.63 L303.87 798.19 L305.26 797.74 L306.66 797.29 L308.05 796.82 L309.43 796.35 L310.82 795.86 L312.20 795.37 L313.57 794.86 L314.95 794.35 L316.32 793.83 L317.68 793.29 L319.04 792.75 L320.40 792.19 L321.76 791.62 L323.11 791.04 L324.45 790.45 L325.79 789.85 L327.13 789.24 L328.46 788.61 L329.79 787.97 L331.12 787.32 L332.44 786.65 L333.75 785.97 L335.07 785.28 L336.37 784.57 L337.68 783.85 L338.97 783.12 L340.26 782.37 L341.55 781.61 L342.82 780.84 L344.09 780.05 L345.36 779.24 L346.61 778.43 L347.85 777.60 L349.09 776.75 L350.31 775.89 L351.53 775.02 L352.73 774.13 L353.92 773.23 L355.10 772.32 L356.27 771.39 L357.42 770.44 L358.57 769.49 L359.69 768.51 L360.81 767.53 L361.90 766.53 L362.98 765.51 L364.05 764.48 L365.10 763.44 L366.13 762.38 L367.15 761.31 L368.14 760.22 L369.12 759.12 L370.08 758.01 L371.02 756.88 L371.94 755.74 L372.84 754.58 L373.72 753.40 L374.57 752.22 L375.41 751.01 L376.22 749.80 L377.02 748.57 L377.79 747.32 L378.55 746.06 L379.28 744.79 L380.00 743.50 L380.69 742.20 L381.37 740.89 L382.03 739.56 L382.68 738.22 L383.30 736.86 L383.91 735.49 L384.50 734.11 L385.08 732.71 L385.64 731.30 L386.18 729.88 L386.71 728.44 L387.22 726.99 L387.72 725.53 L388.20 724.05 L388.67 722.57" fill="none" stroke="#ff0000" stroke-width="3.30" stroke-linecap="round" stroke-dasharray="4.400 8.041"/>
<path d="M146.80 850.72 L148.28 850.67 L149.75 850.62 L151.23 850.57 L152.70 850.51 L154.17 850.44 L155.65 850.37 L157.12 850.29 L158.59 850.20 L160.07 850.11 L161.54 850.02 L163.01 849.92 L164.49 849.81 L165.96 849.70 L167.43 849.59 L168.91 849.46 L170.38 849.34 L171.85 849.21 L173.33 849.08 L174.80 848.94 L176.27 848.79 L177.74 848.65 L179.22 848.49 L180.69 848.34 L182.16 848.18 L183.63 848.01 L185.10 847.85 L186.58 847.68 L188.05 847.50 L189.52 847.32 L190.99 847.14 L192.46 846.96 L193.94 846.77 L195.41 846.58 L196.88 846.39 L198.35 846.19 L199.82 845.99 L201.29 845.79 L202.77 845.59 L204.24 845.38 L205.71 845.17 L207.18 844.96 L208.65 844.75 L210.12 844.53 L211.59 844.31 L213.06 844.10 L214.54 843.87 L216.01 843.65 L217.48 843.43 L218.95 843.20 L220.42 842.98 L221.89 842.75 L223.36 842.52 L224.83 842.29 L226.30 842.06 L227.77 841.83 L229.25 841.60 L230.72 841.36 L232.19 841.13 L233.66 840.90 L235.13 840.66 L236.60 840.43 L238.07 840.20 L239.54 839.96 L241.01 839.73 L242.48 839.49 L243.96 839.26 L245.43 839.03 L246.90 838.79 L248.37 838.56 L249.84 838.33 L251.31 838.10 L252.78 837.87 L254.25 837.64 L255.72 837.42 L257.19 837.19 L258.66 836.97 L260.14 836.74 L261.61 836.52 L263.08 836.30 L264.55 836.08 L266.02 835.87 L267.49 835.65 L268.96 835.44 L270.43 835.23 L271.91 835.02 L273.38 834.82 L274.85 834.61 L276.32 834.41 L277.79 834.21 L279.26 834.02 L280.73 833.83 L282.21 833.64 L283.68 833.45 L285.15 833.27 L286.62 833.09 L288.09 832.91 L289.57 832.74 L291.04 832.57 L292.51 832.40 L293.98 832.24 L295.45 832.08 L296.93 831.93 L298.40 831.78 L299.87 831.63 L301.34 831.49 L302.82 831.35 L304.29 831.22 L305.76 831.08 L307.23 830.95 L308.71 830.83 L310.18 830.70 L311.65 830.58 L313.13 830.46 L314.60 830.34 L316.07 830.23 L317.55 830.12 L319.02 830.00 L320.49 829.89 L321.97 829.78 L323.44 829.68 L324.91 829.57 L326.39 829.46 L327.86 829.36 L329.34 829.25 L330.81 829.14 L332.29 829.04 L333.76 828.93 L335.23 828.83 L336.71 828.72 L338.18 828.61 L339.66 828.50 L341.13 828.39 L342.61 828.28 L344.08 828.17 L345.56 828.06 L347.04 827.94 L348.51 827.82 L349.99 827.71 L351.46 827.58 L352.94 827.46 L354.42 827.33 L355.89 827.20 L357.37 827.07 L358.85 826.93 L360.32 826.79 L361.80 826.65 L363.28 826.50 L364.75 826.35 L366.23 826.20 L367.71 826.04 L369.19 825.88 L370.67 825.71 L372.14 825.54 L373.62 825.36 L375.10 825.18 L376.58 824.99 L378.06 824.79 L379.54 824.59 L381.02 824.39 L382.49 824.18 L383.97 823.96 L385.45 823.74 L386.93 823.51 L388.41 823.27" fill="none" stroke="#000" stroke-width="3.45" stroke-linecap="round"/>
<path d="M146.80 885.37 L148.23 885.46 L149.65 885.55 L151.08 885.63 L152.51 885.71 L153.95 885.78 L155.38 885.85 L156.82 885.91 L158.27 885.97 L159.71 886.02 L161.16 886.06 L162.61 886.10 L164.06 886.14 L165.52 886.17 L166.97 886.20 L168.43 886.23 L169.89 886.25 L171.35 886.26 L172.82 886.28 L174.29 886.29 L175.76 886.30 L177.23 886.30 L178.70 886.30 L180.17 886.30 L181.65 886.29 L183.13 886.29 L184.61 886.28 L186.09 886.27 L187.57 886.25 L189.06 886.24 L190.54 886.22 L192.03 886.20 L193.52 886.18 L195.00 886.16 L196.50 886.14 L197.99 886.11 L199.48 886.09 L200.97 886.07 L202.47 886.04 L203.96 886.02 L205.46 885.99 L206.96 885.97 L208.46 885.94 L209.96 885.92 L211.45 885.89 L212.95 885.87 L214.46 885.85 L215.96 885.82 L217.46 885.80 L218.96 885.78 L220.46 885.77 L221.97 885.75 L223.47 885.74 L224.97 885.72 L226.48 885.71 L227.98 885.71 L229.48 885.70 L230.99 885.70 L232.49 885.70 L233.99 885.70 L235.50 885.70 L237.00 885.71 L238.50 885.72 L240.00 885.74 L241.50 885.76 L243.01 885.78 L244.51 885.81 L246.01 885.84 L247.51 885.87 L249.01 885.91 L250.50 885.96 L252.00 886.00 L253.50 886.06 L254.99 886.12 L256.49 886.18 L257.98 886.25 L259.48 886.32 L260.97 886.40 L262.46 886.49 L263.95 886.58 L265.44 886.68 L266.92 886.78 L268.41 886.90 L269.89 887.01 L271.38 887.14 L272.86 887.27 L274.34 887.41 L275.82 887.55 L277.29 887.70 L278.77 887.86 L280.24 888.03 L281.71 888.21 L283.18 888.39 L284.65 888.58 L286.12 888.79 L287.58 888.99 L289.04 889.21 L290.50 889.44 L291.96 889.67 L293.41 889.92 L294.86 890.17 L296.31 890.43 L297.76 890.71 L299.21 890.99 L300.65 891.28 L302.09 891.58 L303.53 891.90 L304.96 892.22 L306.40 892.55 L307.83 892.90 L309.25 893.25 L310.68 893.62 L312.10 893.99 L313.52 894.38 L314.93 894.78 L316.34 895.19 L317.75 895.61 L319.16 896.05 L320.56 896.50 L321.96 896.95 L323.36 897.43 L324.75 897.91 L326.13 898.41 L327.52 898.92 L328.89 899.44 L330.26 899.97 L331.63 900.52 L332.99 901.09 L334.34 901.66 L335.69 902.25 L337.03 902.86 L338.36 903.48 L339.68 904.11 L341.00 904.76 L342.30 905.42 L343.60 906.09 L344.89 906.79 L346.17 907.49 L347.43 908.21 L348.69 908.95 L349.94 909.71 L351.17 910.47 L352.40 911.26 L353.61 912.06 L354.81 912.88 L355.99 913.71 L357.17 914.56 L358.33 915.43 L359.47 916.31 L360.61 917.21 L361.72 918.13 L362.83 919.07 L363.91 920.02 L364.98 920.99 L366.04 921.98 L367.08 922.99 L368.10 924.01 L369.11 925.06 L370.10 926.12 L371.07 927.20 L372.02 928.30 L372.95 929.42 L373.87 930.56 L374.77 931.72 L375.64 932.89 L376.50 934.09 L377.33 935.31 L378.15 936.54 L378.94 937.80 L379.72 939.08 L380.47 940.37 L381.20 941.69 L381.90 943.03 L382.59 944.39 L383.25 945.77 L383.89 947.17 L384.50 948.60 L385.09 950.04 L385.65 951.51" fill="none" stroke="#0000ff" stroke-width="3.45" stroke-linecap="round" stroke-dasharray="13.600 10.225 1.600 10.225"/>
<path d="M125.2 312 H179" fill="none" stroke="#ff0000" stroke-width="3.3" stroke-linecap="round" stroke-dasharray="4.6 7.6"/>
<path d="M125.2 341.5 H173" fill="none" stroke="#0000ff" stroke-width="3.5" stroke-linecap="round" stroke-dasharray="13.6 9.4 1.6 9.4"/>
<path d="M125.2 370.4 H179.2" fill="none" stroke="#000" stroke-width="3.5" stroke-linecap="round"/>
<text x="93.6" y="150.83" font-family="Liberation Sans, sans-serif" font-size="20.8" text-anchor="end">0.80</text>
<text x="93.6" y="210.99" font-family="Liberation Sans, sans-serif" font-size="20.8" text-anchor="end">0.40</text>
<text x="93.6" y="271.15" font-family="Liberation Sans, sans-serif" font-size="20.8" text-anchor="end">0.00</text>
<text x="93.6" y="331.31" font-family="Liberation Sans, sans-serif" font-size="20.8" text-anchor="end">-0.40</text>
<text x="93.6" y="391.47" font-family="Liberation Sans, sans-serif" font-size="20.8" text-anchor="end">-0.80</text>
<text x="93.6" y="488.20" font-family="Liberation Sans, sans-serif" font-size="20.8" text-anchor="end">0.50</text>
<text x="93.6" y="569.90" font-family="Liberation Sans, sans-serif" font-size="20.8" text-anchor="end">0.00</text>
<text x="93.6" y="651.60" font-family="Liberation Sans, sans-serif" font-size="20.8" text-anchor="end">-0.50</text>
<text x="93.6" y="726.20" font-family="Liberation Sans, sans-serif" font-size="20.8" text-anchor="end">0.60</text>
<text x="93.6" y="794.90" font-family="Liberation Sans, sans-serif" font-size="20.8" text-anchor="end">0.30</text>
<text x="93.6" y="863.60" font-family="Liberation Sans, sans-serif" font-size="20.8" text-anchor="end">0.00</text>
<text x="93.6" y="932.30" font-family="Liberation Sans, sans-serif" font-size="20.8" text-anchor="end">-0.30</text>
<text x="107.70" y="1002.2" font-family="Liberation Sans, sans-serif" font-size="21" text-anchor="middle">0.0</text>
<text x="185.94" y="1002.2" font-family="Liberation Sans, sans-serif" font-size="21" text-anchor="middle">0.2</text>
<text x="264.18" y="1002.2" font-family="Liberation Sans, sans-serif" font-size="21" text-anchor="middle">0.4</text>
<text x="342.42" y="1002.2" font-family="Liberation Sans, sans-serif" font-size="21" text-anchor="middle">0.6</text>
<text x="420.66" y="1002.2" font-family="Liberation Sans, sans-serif" font-size="21" text-anchor="middle">0.8</text>
<text x="498.90" y="1002.2" font-family="Liberation Sans, sans-serif" font-size="21" text-anchor="middle">1.0</text>
<text x="484.3" y="374" font-family="Liberation Sans, sans-serif" font-size="22.5" text-anchor="middle">(a)</text>
<text x="483.5" y="668.8" font-family="Liberation Sans, sans-serif" font-size="22.5" text-anchor="middle">(b)</text>
<text x="484.1" y="942" font-family="Liberation Sans, sans-serif" font-size="22.5" text-anchor="middle">(c)</text>
<text transform="translate(131.60 156.00) scale(1.0300 1)" font-family="Liberation Serif, serif" font-size="23.5">T=5 MeV;</text>
<text transform="translate(239.60 156.00) scale(1.0120 1)" font-family="Liberation Serif, serif" font-size="23.5">ρ =0.3ρ</text>
<text x="313.40" y="165.50" font-family="Liberation Serif, serif" font-size="14.5">0</text>
<text transform="translate(137.20 192.50) scale(1.0310 1)" font-family="Liberation Serif, serif" font-size="23.5">I=0.0 ; t=40 fm/c</text>
<text transform="translate(125.60 441.40) scale(1.0300 1)" font-family="Liberation Serif, serif" font-size="23.5">T=5 MeV;</text>
<text transform="translate(233.60 441.40) scale(1.0120 1)" font-family="Liberation Serif, serif" font-size="23.5">ρ =0.3ρ</text>
<text x="307.40" y="450.90" font-family="Liberation Serif, serif" font-size="14.5">0</text>
<text transform="translate(131.40 478.80) scale(1.0140 1)" font-family="Liberation Serif, serif" font-size="23.5">I=0.4; t=40 fm/c</text>
<text transform="translate(127.10 725.90) scale(1.0300 1)" font-family="Liberation Serif, serif" font-size="23.5">T=5 MeV;</text>
<text transform="translate(235.10 725.90) scale(1.0120 1)" font-family="Liberation Serif, serif" font-size="23.5">ρ =0.3ρ</text>
<text x="308.90" y="735.40" font-family="Liberation Serif, serif" font-size="14.5">0</text>
<text transform="translate(132.40 763.00) scale(1.0300 1)" font-family="Liberation Serif, serif" font-size="23.5">I=0.8 ; t=40 fm/c</text>
<text transform="translate(192.00 320.00) scale(1.0200 1)" font-family="Liberation Serif, serif" font-size="23.5">pole</text>
<text transform="translate(192.00 348.30) scale(1.0200 1)" font-family="Liberation Serif, serif" font-size="23.5">cut</text>
<text transform="translate(192.00 378.60) scale(1.0250 1)" font-family="Liberation Serif, serif" font-size="23.5">pole+cut</text>
<text x="285.3" y="1049.2" font-family="Liberation Serif, serif" font-size="25.3">k (fm<tspan font-size="16" dy="-14.4">-1</tspan><tspan dy="14.4">)</tspan></text>
<text transform="translate(30.20 317.80) rotate(-90)" font-family="Liberation Serif, serif" font-size="25.3">σ(k,t) (fm<tspan font-size="16" dy="-14.8">-3</tspan><tspan dy="14.8">)</tspan></text>
<text transform="translate(27.90 614.20) rotate(-90)" font-family="Liberation Serif, serif" font-size="25.3">σ(k,t) (fm<tspan font-size="16" dy="-14.8">-3</tspan><tspan dy="14.8">)</tspan></text>
<text transform="translate(27.90 890.90) rotate(-90)" font-family="Liberation Serif, serif" font-size="25.3">σ(k,t) (fm<tspan font-size="16" dy="-14.8">-3</tspan><tspan dy="14.8">)</tspan></text>
</svg>
</body></html>
